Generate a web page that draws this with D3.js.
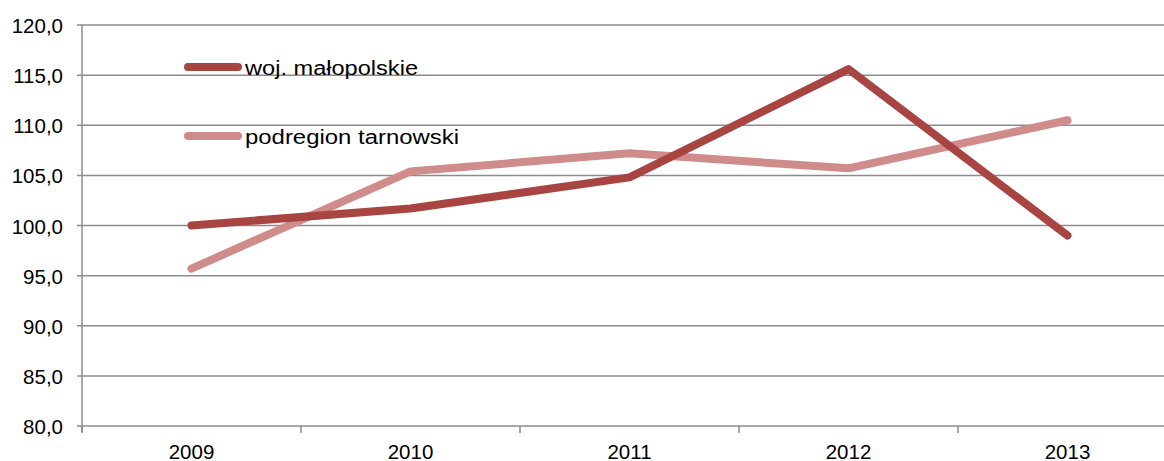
<!DOCTYPE html>
<html><head><meta charset="utf-8">
<script src="https://cdn.jsdelivr.net/npm/d3@7"></script>
<style>body{margin:0;background:#fff;}svg{display:block;font-family:"Liberation Sans",Arial,sans-serif;}</style>
</head><body><svg id="c" width="1164" height="461"></svg>
<script>
const years = ["2009","2010","2011","2012","2013"];
const malopolskie = [100.0, 101.7, 104.8, 115.6, 99.0];
const tarnowski = [95.7, 105.4, 107.2, 105.7, 110.5];
const yTicks = [80,85,90,95,100,105,110,115,120];
const seriesNames = ["woj. małopolskie","podregion tarnowski"];
const colors = ["#A84442","#D08B8B"];

const svg = d3.select("#c");
const x = d3.scaleBand().domain(years).range([82, 82+5*219]);
const y = d3.scaleLinear().domain([80,120]).range([426,25]);

// gridlines
svg.append("g").selectAll("line").data(yTicks).join("line")
  .attr("x1",77).attr("x2",1164).attr("y1",d=>y(d)).attr("y2",d=>y(d))
  .attr("stroke","#8c8c8c").attr("stroke-width",1.5);
// y axis line
svg.append("line").attr("x1",82).attr("x2",82).attr("y1",25).attr("y2",432)
  .attr("stroke","#8c8c8c").attr("stroke-width",1.5);
// y labels
svg.append("g").selectAll("text").data(yTicks).join("text")
  .attr("x",63).attr("y",d=>y(d)+8).attr("text-anchor","end")
  .attr("font-size",20.5).attr("fill","#000")
  .text(d=>d3.format(".1f")(d).replace(".",","));
// x ticks
const bounds = years.map(d=>x(d)).concat([x(years[4])+x.bandwidth()]);
svg.append("g").selectAll("line").data(bounds).join("line")
  .attr("x1",d=>d).attr("x2",d=>d).attr("y1",426).attr("y2",433)
  .attr("stroke","#8c8c8c").attr("stroke-width",1.5);
svg.append("g").selectAll("text").data(years).join("text")
  .attr("x",d=>x(d)+x.bandwidth()/2).attr("y",459).attr("text-anchor","middle")
  .attr("font-size",20.5).attr("fill","#000").text(d=>d);

const line = d3.line().x((d,i)=>x(years[i])+x.bandwidth()/2).y(d=>y(d));
[tarnowski, malopolskie].forEach((s,k)=>{
  svg.append("path").attr("d",line(s)).attr("fill","none")
    .attr("stroke", colors[1-k]).attr("stroke-width",8)
    .attr("stroke-linecap","round").attr("stroke-linejoin","round");
});
// legend
const ly = [67,136];
const lw = [173, 214];
seriesNames.forEach((n,i)=>{
  svg.append("line").attr("x1",188).attr("x2",238).attr("y1",ly[i]).attr("y2",ly[i])
    .attr("stroke",colors[i]).attr("stroke-width",8).attr("stroke-linecap","round");
  svg.append("text").attr("x",245).attr("y",ly[i]+8).attr("font-size",20).attr("fill","#000")
    .attr("textLength",lw[i]).attr("lengthAdjust","spacingAndGlyphs").text(n);
});
</script></body></html>
